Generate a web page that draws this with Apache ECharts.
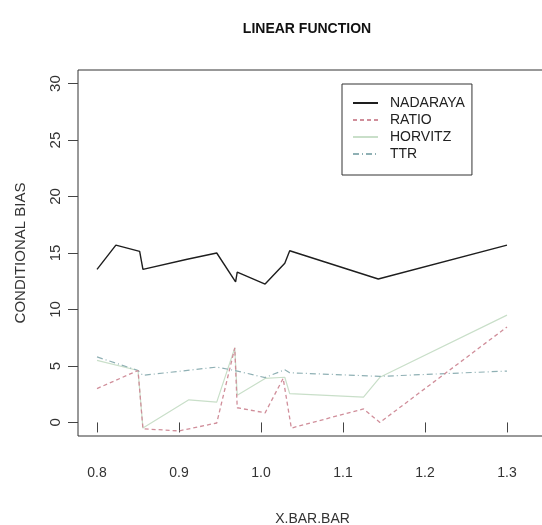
<!DOCTYPE html>
<html>
<head>
<meta charset="utf-8">
<script src="https://cdn.jsdelivr.net/npm/echarts@6/dist/echarts.min.js"></script>
<style>
  html, body { margin: 0; padding: 0; background: #fff; }
  #main { width: 542px; height: 525px; }
</style>
</head>
<body>
<div id="main"></div>
<script>
  // 各条曲线的数据
  var nadarayaX = [0.8, 0.823, 0.852, 0.856, 0.91, 0.946, 0.969, 0.971, 1.005, 1.029, 1.035, 1.143, 1.3];
  var nadarayaY = [13.55, 15.7, 15.15, 13.55, 14.45, 15.0, 12.45, 13.3, 12.25, 14.1, 15.2, 12.7, 15.7];

  var ratioX = [0.8, 0.85, 0.856, 0.9, 0.946, 0.968, 0.971, 1.005, 1.027, 1.037, 1.125, 1.145, 1.3];
  var ratioY = [3.0, 4.6, -0.56, -0.75, -0.05, 6.6, 1.3, 0.85, 3.9, -0.5, 1.2, 0.0, 8.45];

  var horvitzX = [0.8, 0.85, 0.856, 0.912, 0.946, 0.968, 0.971, 1.005, 1.029, 1.035, 1.125, 1.145, 1.3];
  var horvitzY = [5.5, 4.6, -0.5, 2.0, 1.8, 6.6, 2.4, 3.9, 4.0, 2.55, 2.25, 4.0, 9.5];

  var ttrX = [0.8, 0.85, 0.856, 0.946, 0.968, 1.005, 1.029, 1.035, 1.145, 1.3];
  var ttrY = [5.8, 4.6, 4.17, 4.9, 4.6, 3.97, 4.67, 4.4, 4.08, 4.55];

  var xTicks = [0.8, 0.9, 1.0, 1.1, 1.2, 1.3];
  var yTicks = [0, 5, 10, 15, 20, 25, 30];
  var seriesNames = ['NADARAYA', 'RATIO', 'HORVITZ', 'TTR'];

  // x,y 合成点对
  function pairs(xs, ys) {
    return xs.map(function (x, i) { return [x, ys[i]]; });
  }

  var font = 'Liberation Sans';

  var myChart = echarts.init(document.getElementById('main'), null, { renderer: 'canvas' });

  var option = {
    animation: false,
    backgroundColor: '#fff',
    title: {
      text: 'LINEAR FUNCTION',
      left: 302,
      top: 17,
      textAlign: 'center',
      textStyle: { fontFamily: font, fontWeight: 'bold', fontSize: 14, color: '#111' }
    },
    legend: {
      data: seriesNames,
      orient: 'vertical',
      left: 342,
      top: 84,
      padding: [12, 7, 14, 10],
      itemGap: 3,
      itemWidth: 25,
      itemHeight: 14,
      borderColor: '#333',
      borderWidth: 1,
      itemStyle: { opacity: 0 },
      textStyle: { fontFamily: font, fontSize: 14, color: '#222', padding: [0, 0, 0, 7] }
    },
    grid: {
      left: 78,
      top: 70,
      right: -5,
      bottom: 89,
      show: true,
      borderColor: '#333',
      borderWidth: 1,
      containLabel: false,
      outerBoundsMode: 'none'
    },
    xAxis: {
      type: 'value',
      min: 0.7768,
      max: 1.3488,
      name: 'X.BAR.BAR',
      nameLocation: 'middle',
      nameGap: 76,
      nameTextStyle: { fontFamily: font, fontSize: 14, color: '#333' },
      axisLine: { show: false },
      splitLine: { show: false },
      axisTick: { show: true, inside: false, length: 10, customValues: xTicks, lineStyle: { color: '#444' } },
      axisLabel: {
        customValues: xTicks,
        margin: 30,
        fontFamily: font,
        fontSize: 14,
        color: '#333',
        formatter: function (v) { return v.toFixed(1); }
      }
    },
    yAxis: {
      type: 'value',
      min: -1.2,
      max: 31.2,
      name: 'CONDITIONAL BIAS',
      nameLocation: 'middle',
      nameGap: 50,
      nameTextStyle: { fontFamily: font, fontSize: 15, color: '#333' },
      axisLine: { show: false },
      splitLine: { show: false },
      axisTick: { show: true, inside: false, length: 10, customValues: yTicks, lineStyle: { color: '#444' } },
      axisLabel: {
        customValues: yTicks,
        rotate: 90,
        margin: 15,
        fontFamily: font,
        fontSize: 15,
        color: '#333'
      }
    },
    series: [
      {
        name: 'NADARAYA',
        type: 'line',
        symbol: 'none',
        data: pairs(nadarayaX, nadarayaY),
        lineStyle: { color: '#1e1e1e', width: 1.4 },
        itemStyle: { color: '#1e1e1e' },
        z: 5
      },
      {
        name: 'RATIO',
        type: 'line',
        symbol: 'none',
        data: pairs(ratioX, ratioY),
        lineStyle: { color: '#d08e9a', width: 1.3, type: [4, 3] },
        itemStyle: { color: '#d08e9a' },
        z: 4
      },
      {
        name: 'HORVITZ',
        type: 'line',
        symbol: 'none',
        data: pairs(horvitzX, horvitzY),
        lineStyle: { color: '#c9dfc9', width: 1.2 },
        itemStyle: { color: '#c9dfc9' },
        z: 2
      },
      {
        name: 'TTR',
        type: 'line',
        symbol: 'none',
        data: pairs(ttrX, ttrY),
        lineStyle: { color: '#8fb0b4', width: 1.2, type: [6, 3, 1, 3] },
        itemStyle: { color: '#8fb0b4' },
        z: 3
      }
    ]
  };

  myChart.setOption(option);
</script>
</body>
</html>
